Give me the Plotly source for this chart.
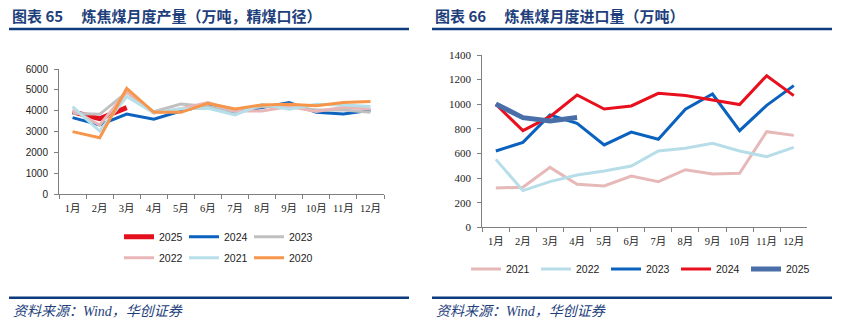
import plotly.graph_objects as go

W, H = 849, 330

months = ["1月", "2月", "3月", "4月", "5月", "6月", "7月", "8月", "9月", "10月", "11月", "12月"]

# Left chart: coking coal monthly output (10k t, washed coal basis)
prod_2025 = [3950, 3620, 4150]
prod_2024 = [3670, 3320, 3845, 3600, 3990, 4280, 3925, 4150, 4390, 3925, 3845, 4020]
prod_2023 = [3880, 3830, 4880, 3960, 4320, 4200, 3960, 4200, 4200, 4040, 4040, 3925]
prod_2022 = [4040, 3320, 4910, 3900, 4100, 4390, 3990, 3990, 4200, 3960, 4170, 4090]
prod_2021 = [4200, 3030, 4680, 3900, 4100, 4120, 3800, 4310, 4070, 4310, 4280, 4200]
prod_2020 = [3000, 2710, 5070, 3925, 3925, 4360, 4085, 4280, 4310, 4245, 4390, 4440]

# Right chart: coking coal monthly imports (10k t)
imp_2021 = [320, 325, 487, 349, 336, 417, 371, 468, 433, 439, 777, 747]
imp_2022 = [552, 298, 371, 425, 458, 498, 620, 642, 682, 620, 574, 650]
imp_2023 = [620, 690, 912, 845, 669, 774, 715, 959, 1083, 785, 991, 1151]
imp_2024 = [1000, 785, 899, 1075, 961, 986, 1089, 1070, 1034, 997, 1232, 1070]
imp_2025 = [1002, 891, 864, 892]

left_y_ticks = [0, 1000, 2000, 3000, 4000, 5000, 6000]
right_y_ticks = [0, 200, 400, 600, 800, 1000, 1200, 1400]

NAVY = "#0d3b7e"
TITLE_C = "#1e3f7c"

fig = go.Figure()

def px_x(p):
    return p / W

def px_y(p):
    return 1 - p / H

left_series = [
    ("2025", prod_2025, "#e5101d", 5, "legend"),
    ("2024", prod_2024, "#0b63bf", 3, "legend"),
    ("2023", prod_2023, "#c0c0c0", 3, "legend"),
    ("2022", prod_2022, "#e9b6b8", 3, "legend3"),
    ("2021", prod_2021, "#b6dfe9", 3, "legend3"),
    ("2020", prod_2020, "#f7964a", 3, "legend3"),
]
for name, vals, col, wd, lg in left_series:
    fig.add_trace(go.Scatter(x=months[:len(vals)], y=vals, name=name, mode="lines",
                             line=dict(color=col, width=wd), xaxis="x", yaxis="y",
                             legend=lg))

right_series = [
    ("2021", imp_2021, "#e6b9b8", 3),
    ("2022", imp_2022, "#b7dee8", 3),
    ("2023", imp_2023, "#0a62be", 3),
    ("2024", imp_2024, "#e8101d", 3),
    ("2025", imp_2025, "#4a6fa8", 5),
]
for name, vals, col, wd in right_series:
    fig.add_trace(go.Scatter(x=months[:len(vals)], y=vals, name=name, mode="lines",
                             line=dict(color=col, width=wd), xaxis="x2", yaxis="y2",
                             legend="legend2"))

axis_col = "#7f7f7f"
xfont_l = dict(family="Liberation Serif, Noto Sans CJK SC", size=10.5, color="#222")
yfont_l = dict(family="Liberation Sans, Noto Sans CJK SC", size=10, color="#222")
xfont_r = dict(family="Liberation Serif, Noto Sans CJK SC", size=10.5, color="#222")
yfont_r = dict(family="Liberation Serif, Noto Sans CJK SC", size=11, color="#222")

common_x = dict(type="category", categoryorder="array", categoryarray=months,
                showline=True, linecolor=axis_col, linewidth=1, ticks="outside",
                tickson="boundaries", ticklen=4, tickcolor=axis_col, showgrid=False,
                zeroline=False, fixedrange=True, ticklabelstandoff=4, tickangle=0)
common_y = dict(showline=True, linecolor=axis_col, linewidth=1, ticks="outside",
                ticklen=4, tickcolor=axis_col, showgrid=False, zeroline=False,
                fixedrange=True, ticklabelstandoff=4)

leg_common = dict(orientation="h", xanchor="left", yanchor="middle",
                  font=dict(family="Liberation Sans", size=10.5, color="#222"),
                  bgcolor="rgba(0,0,0,0)", itemclick=False, itemdoubleclick=False,
                  entrywidthmode="pixels")

fig.update_layout(
    width=W, height=H,
    margin=dict(l=0, r=0, t=0, b=0, autoexpand=False),
    paper_bgcolor="white", plot_bgcolor="white",
    xaxis=dict(domain=[px_x(59), px_x(384)], anchor="y", range=[-0.5, 11.5],
               tickfont=xfont_l, **common_x),
    yaxis=dict(domain=[px_y(194.3), px_y(69)], anchor="x", range=[0, 6000],
               tickvals=left_y_ticks, tickfont=yfont_l, **common_y),
    xaxis2=dict(domain=[px_x(482.3), px_x(807.3)], anchor="y2", range=[-0.5, 11.5],
                tickfont=xfont_r, **common_x),
    yaxis2=dict(domain=[px_y(227.3), px_y(55)], anchor="x2", range=[0, 1400],
                tickvals=right_y_ticks, tickfont=yfont_r, **common_y),
    legend=dict(x=px_x(119), y=px_y(236.7), entrywidth=20, **leg_common),
    legend3=dict(x=px_x(119), y=px_y(257.7), entrywidth=20, **leg_common),
    legend2=dict(x=px_x(466), y=px_y(269), entrywidth=25, **leg_common),
    showlegend=True,
)

title_font = dict(family="Noto Sans CJK SC", size=15, color=TITLE_C, weight="bold")
src_font = dict(family="Liberation Serif, Noto Sans CJK SC", size=14, color=TITLE_C, style="italic")

fig.add_annotation(text="图表 65　 炼焦煤月度产量（万吨，精煤口径）", x=px_x(10), y=px_y(15.5),
                   xref="paper", yref="paper", xanchor="left", yanchor="middle",
                   showarrow=False, font=title_font)
fig.add_annotation(text="图表 66　 炼焦煤月度进口量（万吨）", x=px_x(433), y=px_y(15.5),
                   xref="paper", yref="paper", xanchor="left", yanchor="middle",
                   showarrow=False, font=title_font)
fig.add_annotation(text="资料来源：Wind，华创证券", x=px_x(11), y=px_y(311.5),
                   xref="paper", yref="paper", xanchor="left", yanchor="middle",
                   showarrow=False, font=src_font)
fig.add_annotation(text="资料来源：Wind，华创证券", x=px_x(434), y=px_y(311.5),
                   xref="paper", yref="paper", xanchor="left", yanchor="middle",
                   showarrow=False, font=src_font)

for x0, x1, yy in [(9, 409, 29), (432, 832, 29), (9, 409, 297.7), (432, 832, 297.7)]:
    fig.add_shape(type="line", xref="paper", yref="paper",
                  x0=px_x(x0), x1=px_x(x1), y0=px_y(yy), y1=px_y(yy),
                  line=dict(color=NAVY, width=2.5))

fig.write_html("out.html")
